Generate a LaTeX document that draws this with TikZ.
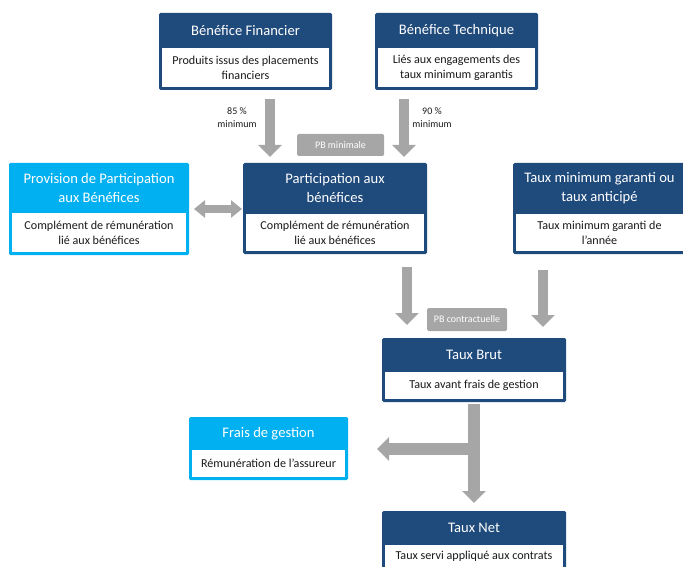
\documentclass[tikz,border=0pt]{standalone}
\usepackage{fontspec}
\setmainfont{Carlito}
\usetikzlibrary{arrows.meta}
\definecolor{navy}{HTML}{1F4A7C}
\definecolor{sky}{HTML}{00B0F0}
\definecolor{flow}{HTML}{A6A6A6}
\definecolor{ink}{HTML}{1A1A1A}
\tikzset{
  titletext/.style={text=white, font=\fontsize{14.6}{19}\selectfont, align=center, inner sep=0pt},
  bodytext/.style={text=ink, font=\fontsize{12.1}{15}\selectfont, align=center, inner sep=0pt},
  tag/.style={fill=flow, text=white, rounded corners=1.5pt, font=\fontsize{10}{12}\selectfont, inner sep=0pt},
  note/.style={text=ink, font=\fontsize{10}{13}\selectfont, align=center, inner sep=0pt},
  bigarrow/.style={draw=flow, line width=10pt, -{Triangle[width=23pt,length=12pt]}},
  widearrow/.style={draw=flow, line width=12pt, -{Triangle[width=23pt,length=12pt]}},
  duoarrow/.style={draw=flow, line width=8pt, {Triangle[width=17pt,length=11pt]}-{Triangle[width=17pt,length=11pt]}},
}
% card: name, x1, y1, x2, header bottom, y2, colour, title, body
\newcommand\card[9]{%
  \node[fill=#7, rounded corners=1.5pt, inner sep=0pt, outer sep=0pt,
        minimum width={(#4-#2)*1pt}, minimum height={(#6-#3)*1pt}]
        (#1) at ({(#2+#4)/2},{(#3+#6)/2}) {};
  \fill[white] (#2+3,#5) rectangle (#4-3,#6-3);
  \node[titletext] (#1-t) at ({(#2+#4)/2},{(#3+#5)/2}) {#8};
  \node[bodytext] (#1-b) at ({(#2+#4)/2},{(#5+#6-3)/2}) {#9};
}
\begin{document}
\begin{tikzpicture}[x=1pt,y=-1pt]
\useasboundingbox (0,0) rectangle (683,567);
\begin{scope}
\clip (0,0) rectangle (683,567);

\card{fin}{159}{13}{332}{48}{90}{navy}{Bénéfice Financier}{Produits issus des placements\\financiers}
\card{tech}{375}{13}{538}{48}{90}{navy}{Bénéfice Technique}{Liés aux engagements des\\taux minimum garantis}
\card{prov}{9}{163}{189}{213}{255}{sky}{Provision de Participation\\aux Bénéfices}{Complément de rémunération\\lié aux bénéfices}
\card{part}{243}{163}{427}{214}{254}{navy}{Participation aux\\bénéfices}{Complément de rémunération\\lié aux bénéfices}
\card{tmg}{513}{163}{686}{214}{254}{navy}{Taux minimum garanti ou\\taux anticipé}{Taux minimum garanti de\\l’année}
\card{brut}{382}{338}{566}{372}{402}{navy}{Taux Brut}{Taux avant frais de gestion}
\card{frais}{189}{417}{348}{450}{480}{sky}{Frais de gestion}{Rémunération de l’assureur}
\card{net}{382}{511}{566}{545}{570}{navy}{Taux Net}{Taux servi appliqué aux contrats}

% tags and percentage notes
\node[tag, minimum width=87pt, minimum height=22pt] (pbmin) at (340.5,145) {PB minimale};
\node[tag, minimum width=80pt, minimum height=23pt] (pbctr) at (467,319.5) {PB contractuelle};
\node[note] (n85) at (237,117.5) {85 \%\\minimum};
\node[note] (n90) at (432,117.5) {90 \%\\minimum};

% arrow end points
\coordinate (a1s) at (270,99);  \coordinate (a1e) at (270,157);
\coordinate (a2s) at (404,99);  \coordinate (a2e) at (404,157);
\coordinate (a3s) at (407,267); \coordinate (a3e) at (407,325);
\coordinate (a4s) at (543,270); \coordinate (a4e) at (543,327);
\coordinate (tj) at (480,449);

% flows
\draw[bigarrow] (a1s) -- (a1e);
\draw[bigarrow] (a2s) -- (a2e);
\draw[bigarrow] (a3s) -- (a3e);
\draw[bigarrow] (a4s) -- (a4e);
\draw[duoarrow, shorten <=5pt, shorten >=1pt] (prov.east) -- (part.west |- prov.east);
\draw[widearrow, shorten <=2pt, shorten >=8pt] (brut.south) -- (net.north);
\draw[widearrow, shorten >=29pt] (tj) -- (frais.east |- tj);
\end{scope}
\end{tikzpicture}
\end{document}
